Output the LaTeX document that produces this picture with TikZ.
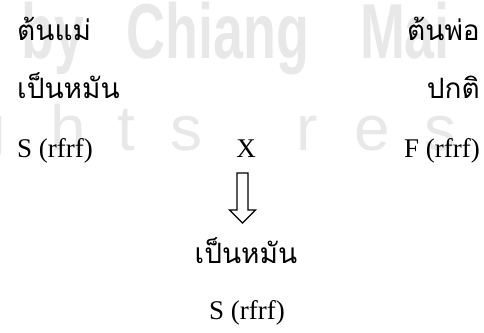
\documentclass[tikz,border=0pt]{standalone}
\usepackage{fontspec}
\setmainfont{Liberation Serif}
\newfontfamily\thaifont[Script=Thai]{Loma}
\newfontfamily\wmfont{Liberation Sans}
\begin{document}
\begin{tikzpicture}[x=1pt,y=-1pt,
  thai/.style={font=\thaifont\fontsize{28}{32}\selectfont, inner sep=0pt},
  latin/.style={font=\fontsize{27}{31}\selectfont, inner sep=0pt},
  wm/.style={text=black!9, font=\wmfont\bfseries\fontsize{78}{80}\selectfont, inner sep=0pt, anchor=base},
  wmb/.style={text=black!9, font=\wmfont\fontsize{64}{70}\selectfont, inner sep=0pt, anchor=base},
  blockarrow/.style={draw=black, line width=1.1pt, fill=white, line join=miter}]
\useasboundingbox (0,0) rectangle (484,332);
\clip (0,0) rectangle (484,332);
% watermark
\node[wm, anchor=base east] (wby) at (85,58) {\scalebox{0.69}[1]{by}};
\node[wm] (wchiang) at (218,58) {\scalebox{0.69}[1]{Chiang}};
\node[wm] (wmai) at (405,58) {\scalebox{0.69}[1]{Mai}};
\node[wmb] (wg) at (-12,150) {g};
\node[wmb] (wh) at (68,150) {h};
\node[wmb] (wt) at (126,150) {t};
\node[wmb] (ws) at (186,150) {s};
\node[wmb] (wr) at (307,150) {r};
\node[wmb] (we) at (372,150) {e};
\node[wmb] (ws2) at (440,150) {s};
% parents
\node[thai, anchor=base west] (mother) at (17,40) {ต้นแม่};
\node[thai, anchor=base west] (motherph) at (17,98) {เป็นหมัน};
\node[thai, anchor=base east] (father) at (480,40) {ต้นพ่อ};
\node[thai, anchor=base east] (fatherph) at (480,98) {ปกติ};
\node[latin, anchor=base west] (mothergt) at (17,157) {S (rfrf)};
\node[latin, anchor=base] (cross) at (246,157) {X};
\node[latin, anchor=base east] (fathergt) at (480,157) {F (rfrf)};
% arrow
\coordinate (arrtop) at (242.5,173);
\draw[blockarrow] (arrtop) ++(-5.5,0) -- ++(0,37) -- ++(-7.5,0) -- ++(13,13) -- ++(13,-13) -- ++(-7.5,0) -- ++(0,-37) -- cycle;
% offspring
\node[thai, anchor=base] (childph) at (246,263) {เป็นหมัน};
\node[latin, anchor=base] (childgt) at (247,319) {S (rfrf)};
\end{tikzpicture}
\end{document}
